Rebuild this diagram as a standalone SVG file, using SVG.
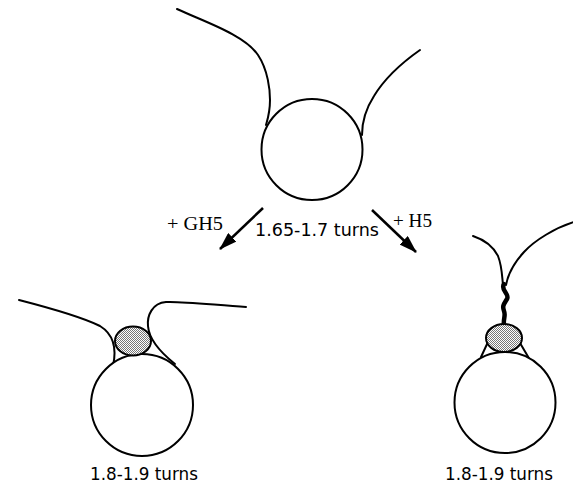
<svg xmlns="http://www.w3.org/2000/svg" width="573" height="483" viewBox="0 0 573 483">
  <style>
    .dna { fill: none; stroke: #000; stroke-width: 2; stroke-linecap: round; }
    .dna.bound { stroke-width: 4.5; }
    .core { fill: #fff; stroke: #000; stroke-width: 2; }
    .linker { fill: url(#stipple); stroke: #000; stroke-width: 2; }
    .arrow { stroke: #000; stroke-width: 2.5; fill: none; marker-end: url(#head); }
    .turns { font-family: "DejaVu Sans", sans-serif; font-size: 17px; fill: #000; }
    .reagent { font-family: "Liberation Serif", serif; font-size: 19px; fill: #000; }
  </style>
  <defs>
    <pattern id="stipple" width="2" height="2" patternUnits="userSpaceOnUse">
      <rect width="2" height="2" fill="#fff"/>
      <rect x="0" y="0" width="1" height="1" fill="#777"/>
      <rect x="1" y="1" width="1" height="1" fill="#777"/>
    </pattern>
    <marker id="head" viewBox="0 0 18 12" refX="17" refY="6" markerWidth="18" markerHeight="12" markerUnits="userSpaceOnUse" orient="auto">
      <path d="M0,0 L18,6 L0,12 z" fill="#000"/>
    </marker>
  </defs>

  <!-- core particle without linker histone -->
  <g id="core">
    <path class="dna" d="M177,9 C205,22 245,35 258,55 C268,70 270,90 270,100 C270,112 268,118 266,125"/>
    <path class="dna" d="M420,50 C400,64 385,78 374,96 C365,110 362,122 362,135"/>
    <circle class="core" cx="312" cy="149.5" r="50.5"/>
  </g>

  <!-- chromatosome with GH5 -->
  <g id="gh5-bound">
    <path class="dna" d="M19,300 C50,308 80,316 100,326 C113,334 117,348 113,366"/>
    <path class="dna" d="M246,307 C215,305 180,301 166,302 C152,303 147,316 148,326 C149,340 160,352 175,364"/>
    <circle class="core" cx="142" cy="405" r="51"/>
    <ellipse class="linker" cx="133" cy="341" rx="18" ry="14.5"/>
  </g>

  <!-- chromatosome with H5 -->
  <g id="h5-bound">
    <path class="dna" d="M473,236 C485,240 494,248 498,256 C502,266 502,276 503,285"/>
    <path class="dna" d="M574,222 C555,228 535,240 524,252 C513,264 508,274 506,285"/>
    <path class="dna bound" d="M504,284 C500,290 510,294 507,299 C504,304 502,306 504,311 C506,316 503,318 504,326"/>
    <path class="dna" d="M488,342 L481,357"/>
    <path class="dna" d="M520,343 L530,360"/>
    <circle class="core" cx="505" cy="402.5" r="50.5"/>
    <ellipse class="linker" cx="504" cy="338" rx="18" ry="14"/>
  </g>

  <g id="connectors">
    <line class="arrow" x1="263" y1="208" x2="220" y2="249"/>
    <line class="arrow" x1="372" y1="210" x2="416" y2="252"/>
  </g>

  <g id="labels">
    <text class="reagent" x="167" y="230" textLength="56" lengthAdjust="spacingAndGlyphs">+ GH5</text>
    <text class="reagent" x="393" y="227" textLength="39" lengthAdjust="spacingAndGlyphs">+ H5</text>
    <text class="turns" x="255" y="236" textLength="124" lengthAdjust="spacingAndGlyphs">1.65-1.7 turns</text>
    <text class="turns" x="90" y="480" textLength="108" lengthAdjust="spacingAndGlyphs">1.8-1.9 turns</text>
    <text class="turns" x="445" y="480" textLength="108" lengthAdjust="spacingAndGlyphs">1.8-1.9 turns</text>
  </g>
</svg>
